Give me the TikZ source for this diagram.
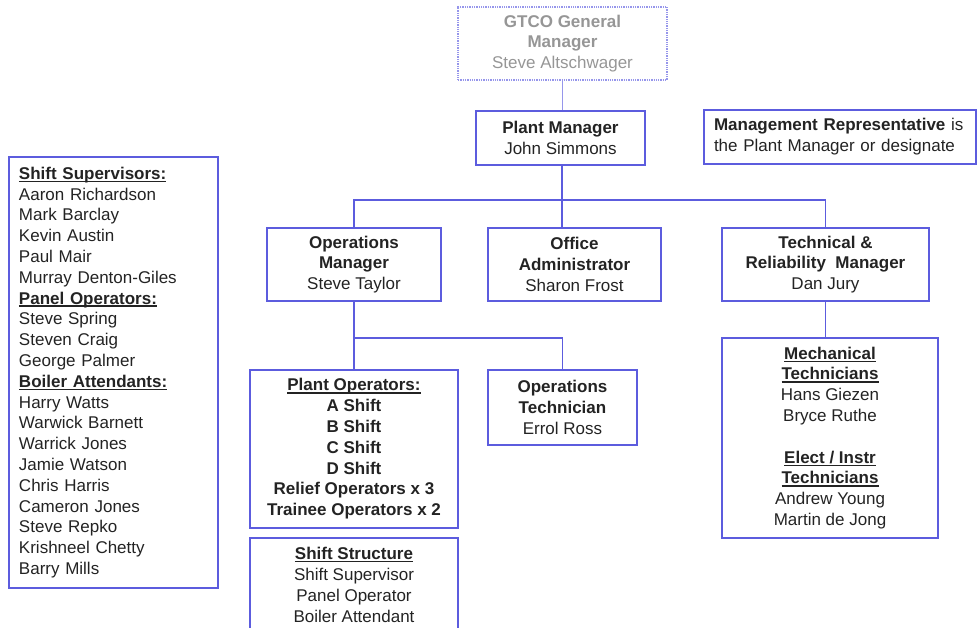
\documentclass[tikz,border=0pt]{standalone}
\usepackage{fontspec}
\setmainfont{Liberation Sans}
\usetikzlibrary{positioning}
\definecolor{boxblue}{RGB}{92,92,222}
\definecolor{faintblue}{RGB}{150,150,235}
\definecolor{inkgray}{RGB}{35,35,35}
\definecolor{greytext}{RGB}{150,150,150}
\newcommand{\hd}[1]{\leavevmode{\bfseries\setbox0\hbox{#1}\rlap{\rule[-2.6pt]{\wd0}{1.2pt}}\box0}}
\tikzset{
  orgbox/.style={draw=boxblue, line width=1.3pt, align=center, inner sep=0pt, text=inkgray,
    font=\fontsize{17}{20.8}\selectfont},
  gmbox/.style={orgbox, draw=faintblue, densely dotted, text=greytext},
  listbox/.style={orgbox, align=left, inner xsep=10pt},
  link/.style={draw=boxblue, line width=1.3pt},
  faintlink/.style={draw=faintblue, line width=1.3pt}
}

\begin{document}
\begin{tikzpicture}[x=1pt, y=-1pt]
		%%%%% FRAME %%%%%
		\useasboundingbox (0, 0) rectangle (978, 628);
		\clip (0, 0) rectangle (978, 628);
		
		%%%%% TOP %%%%%
		\node[gmbox, minimum width=209pt, minimum height=73pt] (gm) at (562.5, 43.5)
			{\textbf{GTCO General}\\\textbf{Manager}\\Steve Altschwager};
		\node[orgbox, minimum width=169pt, minimum height=54pt] (pm) at (560.5, 138)
			{\textbf{Plant Manager}\\John Simmons};
		\node[listbox, text width=252pt, minimum height=54pt] (mr) at (840, 137)
			{\textbf{Management Representative} is\\the Plant Manager or designate};
		
		%%%%% SECOND ROW %%%%%
		\node[orgbox, minimum width=174pt, minimum height=73pt] (om) at (354, 264.5)
			{\textbf{Operations}\\\textbf{Manager}\\Steve Taylor};
		\node[orgbox, minimum width=173pt, minimum height=73pt] (oa) at (574.5, 264.5)
			{\textbf{Office}\\\textbf{Administrator}\\Sharon Frost};
		\node[orgbox, minimum width=207pt, minimum height=73pt] (tm) at (825.5, 264.5)
			{\textbf{Technical \&}\\\textbf{Reliability\ \ Manager}\\Dan Jury};
		
		%%%%% THIRD ROW %%%%%
		\node[orgbox, minimum width=208pt, minimum height=158pt] (po) at (354, 449)
			{\hd{Plant Operators:}\\\textbf{A Shift}\\\textbf{B Shift}\\\textbf{C Shift}\\\textbf{D Shift}\\
			 \textbf{Relief Operators x 3}\\\textbf{Trainee Operators x 2}};
		\node[orgbox, minimum width=149pt, minimum height=75pt] (ot) at (562.5, 407.5)
			{\textbf{Operations}\\\textbf{Technician}\\Errol Ross};
		\node[orgbox, minimum width=208pt, minimum height=94pt] (ss) at (354, 585)
			{\hd{Shift Structure}\\Shift Supervisor\\Panel Operator\\Boiler Attendant};
		\node[orgbox, minimum width=216pt, minimum height=200pt] (tb) at (830, 438)
			{\hd{Mechanical}\\\hd{Technicians}\\Hans Giezen\\Bryce Ruthe\\[20.8pt]
			 \hd{Elect / Instr}\\\hd{Technicians}\\Andrew Young\\Martin de Jong};
		
		%%%%% SHIFT LIST %%%%%
		\node[listbox, text width=189pt, minimum height=431pt] (sl) at (113.5, 372.5)
			{\hd{Shift Supervisors:}\\Aaron Richardson\\Mark Barclay\\Kevin Austin\\Paul Mair\\Murray Denton-Giles\\
			 \hd{Panel Operators:}\\Steve Spring\\Steven Craig\\George Palmer\\
			 \hd{Boiler Attendants:}\\Harry Watts\\Warwick Barnett\\Warrick Jones\\Jamie Watson\\Chris Harris\\
			 Cameron Jones\\Steve Repko\\Krishneel Chetty\\Barry Mills};
		
		%%%%% LINKS %%%%%
		\coordinate (bus1) at (562, 200);
		\coordinate (bus2) at (354, 338);
		\draw[faintlink] (gm.south) -- (gm.south |- pm.north);
		\draw[link] (pm.south -| bus1) -- (bus1 |- oa.north);
		\draw[link] (om.north) |- (bus1) -| (tm.north);
		\draw[link] (om.south) -- (po.north);
		\draw[link] (bus2) -| (ot.north);
		\draw[link] (tm.south) -- (tm.south |- tb.north);
		
		%%%%% END %%%%%
	\end{tikzpicture}
\end{document}
